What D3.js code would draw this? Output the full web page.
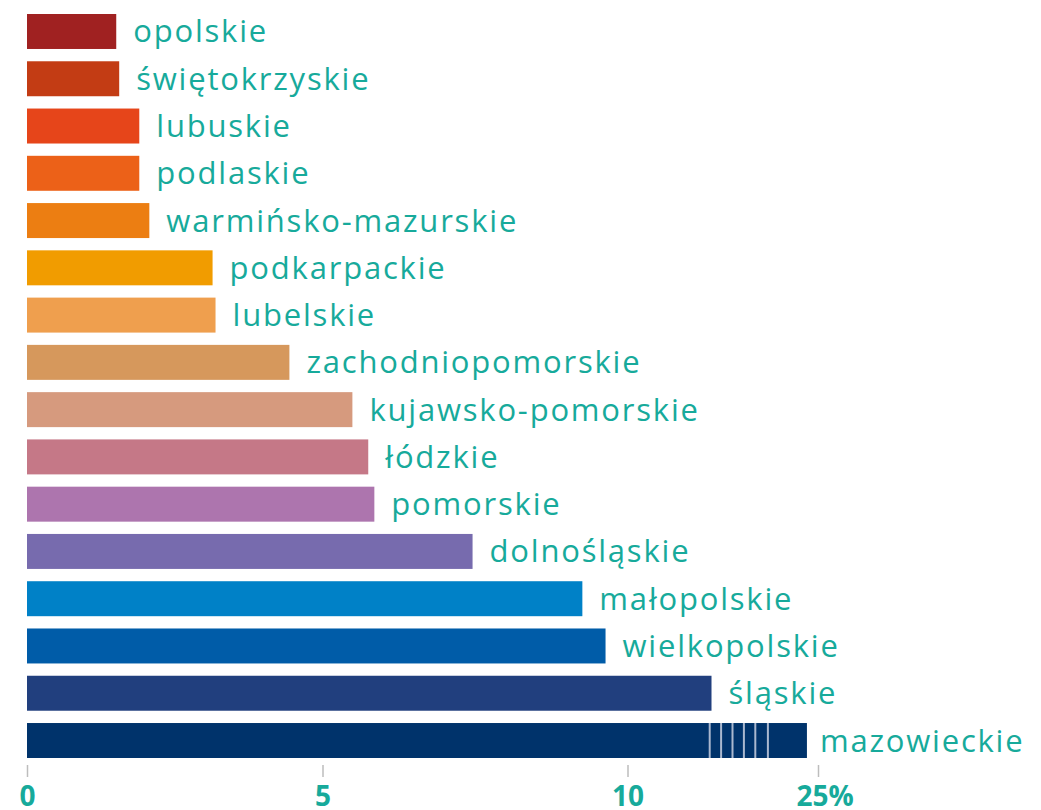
<!DOCTYPE html>
<html>
  <head>
    <meta charset="utf-8" />
    <title>regiony</title>
    <script src="https://cdn.jsdelivr.net/npm/d3@7"></script>
    <style type="text/css">
      body { margin: 0; background: #fff; }
      .lbl { font-family: "Open Sans", sans-serif; font-size: 31px; fill: #17aa9b; letter-spacing: 1.8px; }
      .tick-lbl { font-family: "Open Sans", sans-serif; font-size: 28px; font-weight: bold; fill: #17aa9b; }
    </style>
  </head>
  <body>
    <svg id="chart" width="1041" height="810"></svg>
    <script type="text/javascript">
      // dane (%)
      var regions = ['opolskie', 'świętokrzyskie', 'lubuskie', 'podlaskie', 'warmińsko-mazurskie',
        'podkarpackie', 'lubelskie', 'zachodniopomorskie', 'kujawsko-pomorskie', 'łódzkie',
        'pomorskie', 'dolnośląskie', 'małopolskie', 'wielkopolskie', 'śląskie', 'mazowieckie'];
      var values = [1.51, 1.56, 1.9, 1.9, 2.07, 3.14, 3.19, 4.44, 5.49, 5.75, 5.85, 7.46, 9.26, 9.64, 11.4, 22];
      var colors = ['#a02121', '#c33c14', '#e6451a', '#ec6118', '#ec7e12', '#f19c00', '#ef9f4e', '#d6985c',
        '#d69a7e', '#c57887', '#ad75ae', '#776bae', '#0081c7', '#005ca8', '#213f7e', '#00336b'];
      var tickVals = [0, 5, 10, 25];
      var tickLabels = ['0', '5', '10', '25%'];
      var breakMarks = [11.37, 11.56, 11.75, 11.94, 12.13, 12.34]; // przerwa osi na pasku

      var svg = d3.select('#chart');

      // skala z przerwą osi (12.4 -> 25)
      var x = d3.scaleLinear()
        .domain([0, 5, 10, 12.4, 25])
        .range([27, 322.5, 627.5, 771.5, 818]);

      var y = d3.scaleBand()
        .domain(regions)
        .range([14, 758])
        .paddingInner(0.26)
        .paddingOuter(0);

      var data = regions.map((r, i) => ({ name: r, v: values[i], c: colors[i] }));

      svg.append('g')
        .selectAll('rect')
        .data(data)
        .enter()
        .append('rect')
        .attr('x', x(0))
        .attr('y', (d) => y(d.name))
        .attr('width', (d) => x(d.v) - x(0))
        .attr('height', y.bandwidth())
        .attr('fill', (d) => d.c);

      // znaczniki przerwy na ostatnim pasku
      var last = regions[regions.length - 1];
      svg.append('g')
        .selectAll('line')
        .data(breakMarks)
        .enter()
        .append('line')
        .attr('x1', (d) => x(d))
        .attr('x2', (d) => x(d))
        .attr('y1', y(last))
        .attr('y2', y(last) + y.bandwidth())
        .attr('stroke', '#aab8cf')
        .attr('stroke-width', 2);

      svg.append('g')
        .selectAll('text')
        .data(data)
        .enter()
        .append('text')
        .attr('class', 'lbl')
        .attr('x', (d) => x(d.v) + (d.name === last ? 13 : 17))
        .attr('y', (d) => y(d.name) + y.bandwidth() / 2 + 11)
        .text((d) => d.name);

      // oś X
      var ax = svg.append('g');
      ax.selectAll('line')
        .data(tickVals)
        .enter()
        .append('line')
        .attr('x1', (d) => x(d) + 0.5)
        .attr('x2', (d) => x(d) + 0.5)
        .attr('y1', 765)
        .attr('y2', 777)
        .attr('stroke', '#bdbdbd')
        .attr('stroke-width', 1.5);
      ax.selectAll('text')
        .data(tickVals)
        .enter()
        .append('text')
        .attr('class', 'tick-lbl')
        .attr('x', (d, i) => x(d) + (i === 3 ? 7 : 0.5))
        .attr('y', 806)
        .attr('text-anchor', 'middle')
        .text((d, i) => tickLabels[i]);
    </script>
  </body>
</html>
